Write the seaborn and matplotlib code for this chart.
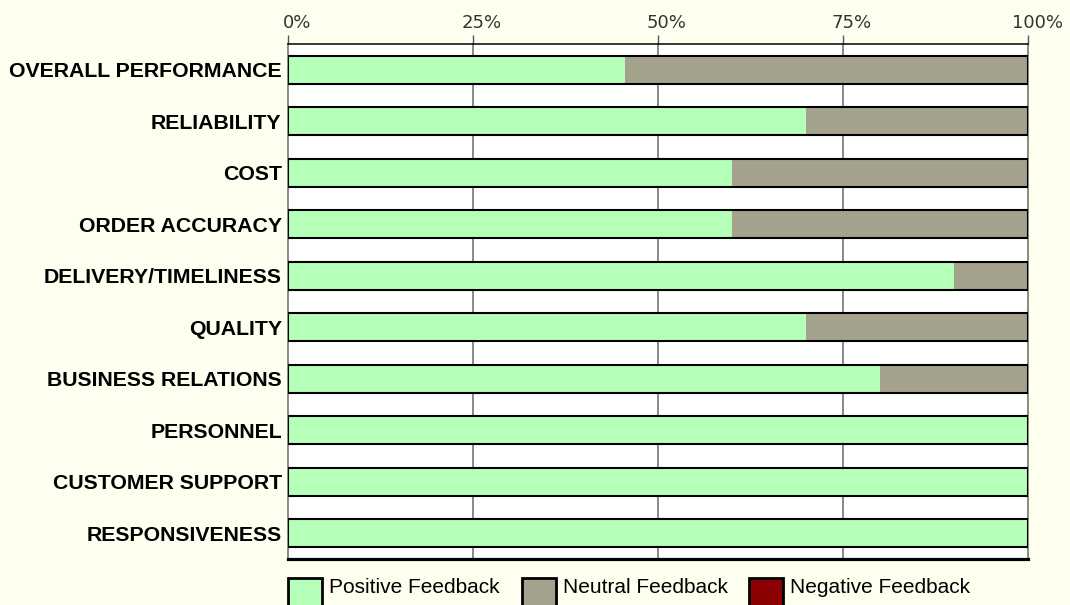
import pandas as pd
import matplotlib.pyplot as plt
import matplotlib.ticker as mticker
import seaborn as sns
from matplotlib.patches import Patch, Rectangle
from matplotlib.legend_handler import HandlerPatch
from matplotlib.transforms import ScaledTranslation

categories = ['OVERALL PERFORMANCE', 'RELIABILITY', 'COST', 'ORDER ACCURACY',
              'DELIVERY/TIMELINESS', 'QUALITY', 'BUSINESS RELATIONS',
              'PERSONNEL', 'CUSTOMER SUPPORT', 'RESPONSIVENESS']
positive = [45.5, 70, 60, 60, 90, 70, 80, 100, 100, 100]
neutral = [54.5, 30, 40, 40, 10, 30, 20, 0, 0, 0]
negative = [0, 0, 0, 0, 0, 0, 0, 0, 0, 0]
series_names = ['Positive Feedback', 'Neutral Feedback', 'Negative Feedback']
tick_values = [0, 25, 50, 75, 100]

POS = '#B5FFB8'
NEU = '#A4A28C'
NEG = '#8B0000'
BG = '#FFFFF0'

df = pd.DataFrame({'category': categories, 'positive': positive,
                   'neutral': neutral, 'negative': negative})
df['pos_neu'] = df['positive'] + df['neutral']
df['total'] = df['pos_neu'] + df['negative']

fig = plt.figure(figsize=(10.7, 6.05), dpi=100, facecolor=BG)
ax = fig.add_axes([288 / 1070, 1 - 559 / 605, 740 / 1070, 515 / 605])
ax.set_facecolor('white')

# stacked bars: draw cumulative totals back to front
for col, c in [('total', NEG), ('pos_neu', NEU), ('positive', POS)]:
    sns.barplot(data=df, x=col, y='category', color=c, saturation=1,
                width=0.55, linewidth=0, errorbar=None, ax=ax)
# black outline around each whole bar
sns.barplot(data=df, x='total', y='category', color='black', fill=False,
            width=0.55, linewidth=1.5, errorbar=None, ax=ax)

ax.set_xlim(0, 100)
ax.set_ylim(len(categories) - 0.5, -0.5)
ax.set_xlabel('')
ax.set_ylabel('')
ax.xaxis.tick_top()
ax.set_xticks(tick_values)
ax.xaxis.set_major_formatter(mticker.FuncFormatter(lambda x, _: f'{x:.0f}%'))
ax.grid(axis='x', color='#808080', linewidth=1.3)
ax.grid(axis='y', visible=False)
ax.set_axisbelow(True)
for line in ax.get_xgridlines():
    line.set_clip_on(False)

for s in ['left', 'right']:
    ax.spines[s].set_visible(False)
ax.spines['top'].set_color('black')
ax.spines['top'].set_linewidth(1.1)
ax.spines['bottom'].set_color('black')
ax.spines['bottom'].set_linewidth(2.3)

ax.tick_params(axis='x', top=True, bottom=False, labeltop=True, labelbottom=False,
               length=6.5, width=1, color='#555555', pad=2,
               labelsize=13, labelcolor='#333333')
ax.tick_params(axis='y', length=0, pad=4.5)

for lab in ax.get_yticklabels():
    lab.set_fontfamily('Liberation Sans')
    lab.set_fontweight('bold')
    lab.set_fontsize(15.3)
    lab.set_color('black')

shift = ScaledTranslation(9 / 100, 0, fig.dpi_scale_trans)
for lab in ax.get_xticklabels():
    lab.set_fontfamily('DejaVu Sans')
    lab.set_transform(lab.get_transform() + shift)


def swatch(legend, orig_handle, xdescent, ydescent, width, height, fontsize):
    h = 2.5 * fontsize
    return Rectangle((-xdescent, -ydescent + height - h), width, h)


handles = [Patch(facecolor=c, edgecolor='black', linewidth=2) for c in [POS, NEU, NEG]]
fig.legend(handles, series_names, loc='upper left',
           bbox_to_anchor=(288 / 1070, 1 - 578 / 605), ncol=3, frameon=False,
           borderpad=0, borderaxespad=0, handlelength=1.63, handletextpad=0.34,
           columnspacing=1.05, prop={'family': 'Liberation Sans', 'size': 15},
           handler_map={Patch: HandlerPatch(patch_func=swatch)})

plt.savefig('out.png', dpi=100, facecolor=BG)
